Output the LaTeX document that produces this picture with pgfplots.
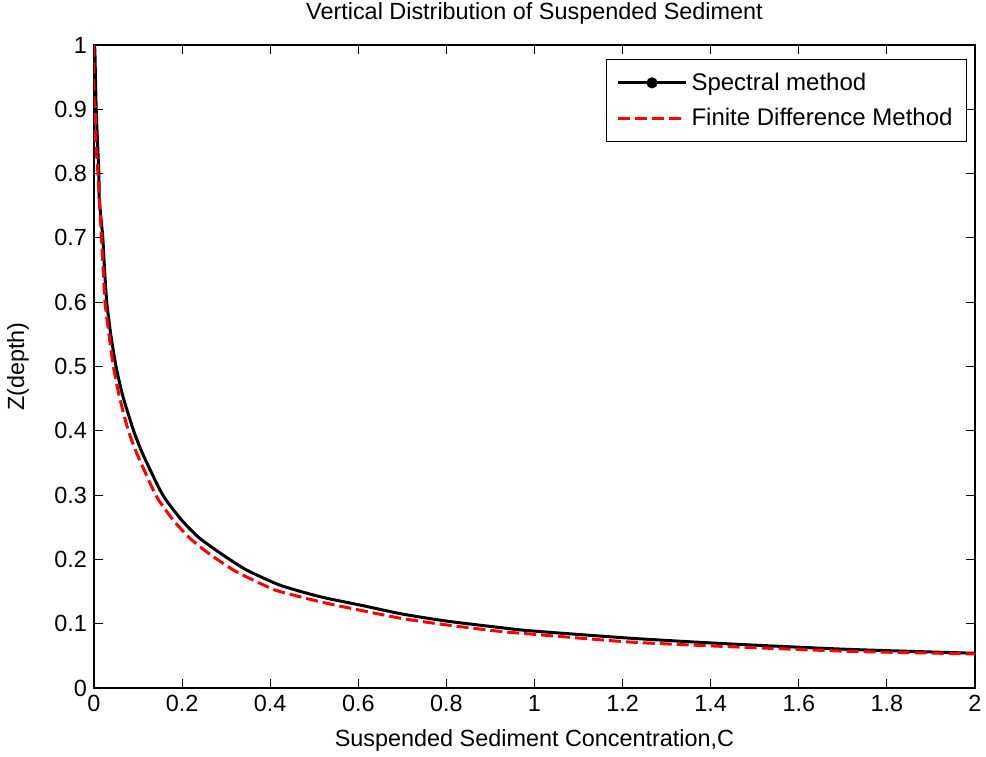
\documentclass[border=0pt]{standalone}
\usepackage{fontspec}
\setmainfont{Liberation Sans}
\usepackage{pgfplots}
\pgfplotsset{compat=1.18}
\begin{document}
\begin{tikzpicture}[x=1pt,y=1pt]
\useasboundingbox (-47,-34) rectangle (446,344);
\begin{axis}[
  at={(0,0)}, anchor=south west,
  scale only axis, width=440.5pt, height=321.5pt,
  xmin=0, xmax=2, ymin=0, ymax=1,
  xtick={0,0.2,0.4,0.6,0.8,1,1.2,1.4,1.6,1.8,2},
  ytick={0,0.1,0.2,0.3,0.4,0.5,0.6,0.7,0.8,0.9,1},
  tick align=inside, major tick length=4.5pt,
  tick style={black, line width=0.5pt},
  axis line style={black, line width=0.6pt},
  /pgf/number format/assume math mode=true,
  tick label style={font=\fontsize{11.7}{14}\selectfont},
  label style={font=\fontsize{11.7}{14}\selectfont},
  title style={font=\fontsize{11.7}{14}\selectfont, at={(0.5,1)}, anchor=center, yshift=10pt},
  xlabel style={at={(0.5,0)}, anchor=center, yshift=-26pt},
  ylabel style={at={(0,0.5)}, anchor=center, yshift=38pt},
  title={Vertical Distribution of Suspended Sediment},
  xlabel={Suspended Sediment Concentration,C},
  ylabel={Z(depth)},
  legend style={at={(0.991,0.978)}, anchor=north east, draw=black, line width=0.5pt,
    font=\fontsize{12}{15}\selectfont, inner xsep=5pt, inner ysep=4.5pt, row sep=3.5pt,
    cells={anchor=west}},
  legend cell align=left,
]
\addplot[black, line width=1.5pt, mark=none, smooth, tension=0.4,
  legend image code/.code={
    \draw[black, line width=1.5pt] (0pt,0pt) -- (34pt,0pt);
    \fill[black] (17pt,0pt) circle (2pt);}]
coordinates {
 (0.000,1.000) (0.002,0.990) (0.005,0.900) (0.011,0.800) (0.012,0.760)
 (0.020,0.700) (0.024,0.650) (0.029,0.600) (0.038,0.550) (0.050,0.500)
 (0.065,0.455) (0.082,0.417) (0.092,0.396) (0.110,0.365) (0.146,0.313)
 (0.164,0.292) (0.199,0.261) (0.238,0.234) (0.286,0.210) (0.345,0.184)
 (0.422,0.160) (0.513,0.142) (0.611,0.128) (0.700,0.115) (0.801,0.104)
 (0.922,0.094) (0.990,0.089) (1.205,0.078) (1.350,0.072) (1.489,0.067)
 (1.716,0.060) (2.000,0.054)
};
\addplot[red, line width=1.5pt, dash pattern=on 6pt off 2.5pt, mark=none, smooth, tension=0.4,
  legend image code/.code={
    \draw[red, line width=1.5pt, dash pattern=on 6pt off 2.5pt] (0pt,0pt) -- (34pt,0pt);}]
coordinates {
 (0.000,1.000) (0.000,0.920) (0.003,0.900) (0.004,0.850) (0.009,0.800)
 (0.017,0.700) (0.021,0.650) (0.025,0.600) (0.034,0.550) (0.044,0.500)
 (0.057,0.455) (0.071,0.417) (0.080,0.396) (0.097,0.365) (0.131,0.313)
 (0.147,0.292) (0.180,0.261) (0.216,0.234) (0.259,0.210) (0.320,0.182)
 (0.392,0.158) (0.422,0.150) (0.520,0.133) (0.611,0.120) (0.700,0.108)
 (0.801,0.098) (0.922,0.088) (0.990,0.084) (1.205,0.072) (1.350,0.067)
 (1.489,0.063) (1.716,0.057) (2.000,0.053)
};
\legend{Spectral method, Finite Difference Method}
\end{axis}
\end{tikzpicture}
\end{document}
